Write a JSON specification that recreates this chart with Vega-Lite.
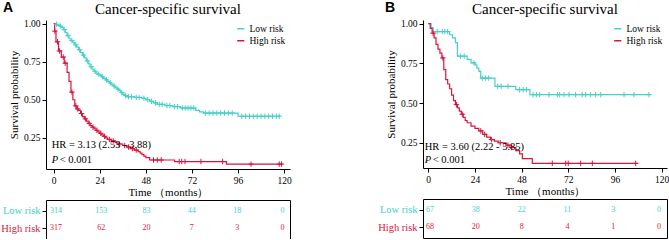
{
  "$schema": "https://vega.github.io/schema/vega-lite/v6.json",
  "background": "white",
  "padding": {"left": 0, "top": 0, "right": 0, "bottom": 0},
  "spacing": 85,
  "resolve": {"scale": {"color": "independent"}, "legend": {"color": "independent"}},
  "datasets": {
    "curveA": [
      {"group": "Low risk", "t": 0, "s": 1.0}, {"group": "Low risk", "t": 1, "s": 0.995}, {"group": "Low risk", "t": 2, "s": 0.99}, {"group": "Low risk", "t": 3, "s": 0.983}, {"group": "Low risk", "t": 4, "s": 0.975}, {"group": "Low risk", "t": 5, "s": 0.96}, {"group": "Low risk", "t": 6, "s": 0.94}, {"group": "Low risk", "t": 7, "s": 0.92}, {"group": "Low risk", "t": 8, "s": 0.9}, {"group": "Low risk", "t": 9, "s": 0.888}, {"group": "Low risk", "t": 10, "s": 0.875}, {"group": "Low risk", "t": 11, "s": 0.86}, {"group": "Low risk", "t": 12, "s": 0.845}, {"group": "Low risk", "t": 13, "s": 0.828}, {"group": "Low risk", "t": 14, "s": 0.81}, {"group": "Low risk", "t": 15, "s": 0.793}, {"group": "Low risk", "t": 16, "s": 0.775}, {"group": "Low risk", "t": 17, "s": 0.755}, {"group": "Low risk", "t": 18, "s": 0.735}, {"group": "Low risk", "t": 19, "s": 0.717}, {"group": "Low risk", "t": 20, "s": 0.7}, {"group": "Low risk", "t": 21, "s": 0.687}, {"group": "Low risk", "t": 22, "s": 0.675}, {"group": "Low risk", "t": 23, "s": 0.667}, {"group": "Low risk", "t": 24, "s": 0.66}, {"group": "Low risk", "t": 25, "s": 0.65}, {"group": "Low risk", "t": 26, "s": 0.64}, {"group": "Low risk", "t": 27, "s": 0.63}, {"group": "Low risk", "t": 28, "s": 0.62}, {"group": "Low risk", "t": 29, "s": 0.61}, {"group": "Low risk", "t": 30, "s": 0.6}, {"group": "Low risk", "t": 31, "s": 0.59}, {"group": "Low risk", "t": 32, "s": 0.58}, {"group": "Low risk", "t": 33, "s": 0.57}, {"group": "Low risk", "t": 34, "s": 0.56}, {"group": "Low risk", "t": 35, "s": 0.547}, {"group": "Low risk", "t": 36, "s": 0.535}, {"group": "Low risk", "t": 37, "s": 0.527}, {"group": "Low risk", "t": 38, "s": 0.52}, {"group": "Low risk", "t": 42, "s": 0.515}, {"group": "Low risk", "t": 46, "s": 0.51}, {"group": "Low risk", "t": 48, "s": 0.5}, {"group": "Low risk", "t": 50, "s": 0.49}, {"group": "Low risk", "t": 52, "s": 0.48}, {"group": "Low risk", "t": 54, "s": 0.47}, {"group": "Low risk", "t": 58, "s": 0.462}, {"group": "Low risk", "t": 62, "s": 0.455}, {"group": "Low risk", "t": 66, "s": 0.446}, {"group": "Low risk", "t": 74, "s": 0.43}, {"group": "Low risk", "t": 76, "s": 0.42}, {"group": "Low risk", "t": 78, "s": 0.413}, {"group": "Low risk", "t": 96, "s": 0.392}, {"group": "Low risk", "t": 118, "s": 0.392},
      {"group": "High risk", "t": 0, "s": 1.0}, {"group": "High risk", "t": 0.5, "s": 0.95}, {"group": "High risk", "t": 1.2, "s": 0.88}, {"group": "High risk", "t": 2.5, "s": 0.82}, {"group": "High risk", "t": 4, "s": 0.78}, {"group": "High risk", "t": 5.5, "s": 0.74}, {"group": "High risk", "t": 7, "s": 0.68}, {"group": "High risk", "t": 8, "s": 0.62}, {"group": "High risk", "t": 9, "s": 0.55}, {"group": "High risk", "t": 10, "s": 0.5}, {"group": "High risk", "t": 11, "s": 0.46}, {"group": "High risk", "t": 12, "s": 0.44}, {"group": "High risk", "t": 13, "s": 0.43}, {"group": "High risk", "t": 14, "s": 0.41}, {"group": "High risk", "t": 15, "s": 0.39}, {"group": "High risk", "t": 16, "s": 0.375}, {"group": "High risk", "t": 17, "s": 0.36}, {"group": "High risk", "t": 18, "s": 0.345}, {"group": "High risk", "t": 19, "s": 0.33}, {"group": "High risk", "t": 20, "s": 0.32}, {"group": "High risk", "t": 21, "s": 0.31}, {"group": "High risk", "t": 22, "s": 0.3}, {"group": "High risk", "t": 23, "s": 0.29}, {"group": "High risk", "t": 24, "s": 0.28}, {"group": "High risk", "t": 25, "s": 0.27}, {"group": "High risk", "t": 26, "s": 0.26}, {"group": "High risk", "t": 27, "s": 0.25}, {"group": "High risk", "t": 28, "s": 0.24}, {"group": "High risk", "t": 30, "s": 0.23}, {"group": "High risk", "t": 32, "s": 0.22}, {"group": "High risk", "t": 33, "s": 0.21}, {"group": "High risk", "t": 36, "s": 0.2}, {"group": "High risk", "t": 38, "s": 0.19}, {"group": "High risk", "t": 40, "s": 0.18}, {"group": "High risk", "t": 42, "s": 0.17}, {"group": "High risk", "t": 44, "s": 0.16}, {"group": "High risk", "t": 45, "s": 0.15}, {"group": "High risk", "t": 46, "s": 0.14}, {"group": "High risk", "t": 47, "s": 0.13}, {"group": "High risk", "t": 48, "s": 0.12}, {"group": "High risk", "t": 50, "s": 0.105}, {"group": "High risk", "t": 63, "s": 0.095}, {"group": "High risk", "t": 90, "s": 0.078}, {"group": "High risk", "t": 119.3, "s": 0.078}
    ],
    "censA": [
      {"group": "Low risk", "t": 1.5, "s": 0.995}, {"group": "Low risk", "t": 3.5, "s": 0.983}, {"group": "Low risk", "t": 5.5, "s": 0.96}, {"group": "Low risk", "t": 7.5, "s": 0.92}, {"group": "Low risk", "t": 9.5, "s": 0.888}, {"group": "Low risk", "t": 11.5, "s": 0.86}, {"group": "Low risk", "t": 13.5, "s": 0.828}, {"group": "Low risk", "t": 15.5, "s": 0.793}, {"group": "Low risk", "t": 17.5, "s": 0.755}, {"group": "Low risk", "t": 19.5, "s": 0.717}, {"group": "Low risk", "t": 21.5, "s": 0.687}, {"group": "Low risk", "t": 23.5, "s": 0.667}, {"group": "Low risk", "t": 25.5, "s": 0.65}, {"group": "Low risk", "t": 27.5, "s": 0.63}, {"group": "Low risk", "t": 29.5, "s": 0.61}, {"group": "Low risk", "t": 31.5, "s": 0.59}, {"group": "Low risk", "t": 33.5, "s": 0.57}, {"group": "Low risk", "t": 35.5, "s": 0.547}, {"group": "Low risk", "t": 37.5, "s": 0.527}, {"group": "Low risk", "t": 39, "s": 0.52}, {"group": "Low risk", "t": 40.5, "s": 0.52}, {"group": "Low risk", "t": 43, "s": 0.515}, {"group": "Low risk", "t": 44.5, "s": 0.515}, {"group": "Low risk", "t": 47, "s": 0.51}, {"group": "Low risk", "t": 49, "s": 0.5}, {"group": "Low risk", "t": 51, "s": 0.49}, {"group": "Low risk", "t": 53, "s": 0.48}, {"group": "Low risk", "t": 55, "s": 0.47}, {"group": "Low risk", "t": 56.5, "s": 0.47}, {"group": "Low risk", "t": 59, "s": 0.462}, {"group": "Low risk", "t": 60.5, "s": 0.462}, {"group": "Low risk", "t": 63, "s": 0.455}, {"group": "Low risk", "t": 64.5, "s": 0.455}, {"group": "Low risk", "t": 67, "s": 0.446}, {"group": "Low risk", "t": 68.5, "s": 0.446}, {"group": "Low risk", "t": 70, "s": 0.446}, {"group": "Low risk", "t": 71.5, "s": 0.446}, {"group": "Low risk", "t": 73, "s": 0.446}, {"group": "Low risk", "t": 79, "s": 0.413}, {"group": "Low risk", "t": 81, "s": 0.413}, {"group": "Low risk", "t": 83, "s": 0.413}, {"group": "Low risk", "t": 85, "s": 0.413}, {"group": "Low risk", "t": 87, "s": 0.413}, {"group": "Low risk", "t": 89, "s": 0.413}, {"group": "Low risk", "t": 91, "s": 0.413}, {"group": "Low risk", "t": 93, "s": 0.413}, {"group": "Low risk", "t": 98, "s": 0.392}, {"group": "Low risk", "t": 100, "s": 0.392}, {"group": "Low risk", "t": 102, "s": 0.392}, {"group": "Low risk", "t": 104, "s": 0.392}, {"group": "Low risk", "t": 106, "s": 0.392}, {"group": "Low risk", "t": 108, "s": 0.392}, {"group": "Low risk", "t": 110, "s": 0.392}, {"group": "Low risk", "t": 112, "s": 0.392}, {"group": "Low risk", "t": 114, "s": 0.392}, {"group": "Low risk", "t": 116, "s": 0.392}, {"group": "Low risk", "t": 117.5, "s": 0.392},
      {"group": "High risk", "t": 0.6, "s": 0.95}, {"group": "High risk", "t": 2, "s": 0.88}, {"group": "High risk", "t": 3, "s": 0.82}, {"group": "High risk", "t": 5, "s": 0.78}, {"group": "High risk", "t": 6, "s": 0.74}, {"group": "High risk", "t": 9.5, "s": 0.55}, {"group": "High risk", "t": 11.5, "s": 0.46}, {"group": "High risk", "t": 12.5, "s": 0.44}, {"group": "High risk", "t": 14.5, "s": 0.41}, {"group": "High risk", "t": 16.5, "s": 0.375}, {"group": "High risk", "t": 18.5, "s": 0.345}, {"group": "High risk", "t": 20.5, "s": 0.32}, {"group": "High risk", "t": 22.5, "s": 0.3}, {"group": "High risk", "t": 24.5, "s": 0.28}, {"group": "High risk", "t": 26.5, "s": 0.26}, {"group": "High risk", "t": 29, "s": 0.24}, {"group": "High risk", "t": 31, "s": 0.23}, {"group": "High risk", "t": 34, "s": 0.21}, {"group": "High risk", "t": 37, "s": 0.2}, {"group": "High risk", "t": 39, "s": 0.19}, {"group": "High risk", "t": 41, "s": 0.18}, {"group": "High risk", "t": 43, "s": 0.17}, {"group": "High risk", "t": 52, "s": 0.105}, {"group": "High risk", "t": 54, "s": 0.105}, {"group": "High risk", "t": 56, "s": 0.105}, {"group": "High risk", "t": 65.4, "s": 0.095}, {"group": "High risk", "t": 66.7, "s": 0.095}, {"group": "High risk", "t": 68.4, "s": 0.095}, {"group": "High risk", "t": 76.7, "s": 0.095}, {"group": "High risk", "t": 88, "s": 0.095}, {"group": "High risk", "t": 102.8, "s": 0.078}, {"group": "High risk", "t": 117.5, "s": 0.078}, {"group": "High risk", "t": 118.7, "s": 0.078}
    ],
    "curveB": [
      {"group": "Low risk", "t": 0, "s": 1.0}, {"group": "Low risk", "t": 1.5, "s": 0.975}, {"group": "Low risk", "t": 2.5, "s": 0.95}, {"group": "Low risk", "t": 11, "s": 0.93}, {"group": "Low risk", "t": 12.5, "s": 0.91}, {"group": "Low risk", "t": 14, "s": 0.88}, {"group": "Low risk", "t": 15, "s": 0.795}, {"group": "Low risk", "t": 20, "s": 0.775}, {"group": "Low risk", "t": 22, "s": 0.753}, {"group": "Low risk", "t": 24, "s": 0.74}, {"group": "Low risk", "t": 25, "s": 0.72}, {"group": "Low risk", "t": 26, "s": 0.7}, {"group": "Low risk", "t": 27, "s": 0.657}, {"group": "Low risk", "t": 34.3, "s": 0.605}, {"group": "Low risk", "t": 45, "s": 0.584}, {"group": "Low risk", "t": 52.3, "s": 0.553}, {"group": "Low risk", "t": 114.5, "s": 0.553},
      {"group": "High risk", "t": 0, "s": 1.0}, {"group": "High risk", "t": 1, "s": 0.97}, {"group": "High risk", "t": 2, "s": 0.94}, {"group": "High risk", "t": 3, "s": 0.91}, {"group": "High risk", "t": 4, "s": 0.87}, {"group": "High risk", "t": 5, "s": 0.84}, {"group": "High risk", "t": 6, "s": 0.815}, {"group": "High risk", "t": 7, "s": 0.784}, {"group": "High risk", "t": 8, "s": 0.711}, {"group": "High risk", "t": 9, "s": 0.648}, {"group": "High risk", "t": 10, "s": 0.62}, {"group": "High risk", "t": 11, "s": 0.59}, {"group": "High risk", "t": 12, "s": 0.55}, {"group": "High risk", "t": 13, "s": 0.515}, {"group": "High risk", "t": 14, "s": 0.49}, {"group": "High risk", "t": 15, "s": 0.47}, {"group": "High risk", "t": 16, "s": 0.449}, {"group": "High risk", "t": 17, "s": 0.43}, {"group": "High risk", "t": 18, "s": 0.41}, {"group": "High risk", "t": 19, "s": 0.39}, {"group": "High risk", "t": 20, "s": 0.376}, {"group": "High risk", "t": 22, "s": 0.355}, {"group": "High risk", "t": 24, "s": 0.34}, {"group": "High risk", "t": 26, "s": 0.325}, {"group": "High risk", "t": 28, "s": 0.303}, {"group": "High risk", "t": 30, "s": 0.285}, {"group": "High risk", "t": 32, "s": 0.27}, {"group": "High risk", "t": 34, "s": 0.26}, {"group": "High risk", "t": 36, "s": 0.25}, {"group": "High risk", "t": 40, "s": 0.235}, {"group": "High risk", "t": 42, "s": 0.22}, {"group": "High risk", "t": 45, "s": 0.2}, {"group": "High risk", "t": 47, "s": 0.18}, {"group": "High risk", "t": 48.4, "s": 0.15}, {"group": "High risk", "t": 53.5, "s": 0.12}, {"group": "High risk", "t": 107.5, "s": 0.12}
    ],
    "censB": [
      {"group": "Low risk", "t": 4.6, "s": 0.95}, {"group": "Low risk", "t": 7.2, "s": 0.95}, {"group": "Low risk", "t": 8.5, "s": 0.95}, {"group": "Low risk", "t": 10, "s": 0.95}, {"group": "Low risk", "t": 16.5, "s": 0.795}, {"group": "Low risk", "t": 18.5, "s": 0.795}, {"group": "Low risk", "t": 23.5, "s": 0.753}, {"group": "Low risk", "t": 27.8, "s": 0.657}, {"group": "Low risk", "t": 29.4, "s": 0.657}, {"group": "Low risk", "t": 31.1, "s": 0.657}, {"group": "Low risk", "t": 35.7, "s": 0.605}, {"group": "Low risk", "t": 37.5, "s": 0.605}, {"group": "Low risk", "t": 41, "s": 0.605}, {"group": "Low risk", "t": 47, "s": 0.584}, {"group": "Low risk", "t": 48.8, "s": 0.584}, {"group": "Low risk", "t": 50.5, "s": 0.584}, {"group": "Low risk", "t": 53.9, "s": 0.553}, {"group": "Low risk", "t": 55.6, "s": 0.553}, {"group": "Low risk", "t": 57.3, "s": 0.553}, {"group": "Low risk", "t": 62.1, "s": 0.553}, {"group": "Low risk", "t": 66.4, "s": 0.553}, {"group": "Low risk", "t": 67.6, "s": 0.553}, {"group": "Low risk", "t": 69.8, "s": 0.553}, {"group": "Low risk", "t": 72.4, "s": 0.553}, {"group": "Low risk", "t": 75.8, "s": 0.553}, {"group": "Low risk", "t": 79.2, "s": 0.553}, {"group": "Low risk", "t": 81, "s": 0.553}, {"group": "Low risk", "t": 83.5, "s": 0.553}, {"group": "Low risk", "t": 86.1, "s": 0.553}, {"group": "Low risk", "t": 88.7, "s": 0.553}, {"group": "Low risk", "t": 100.7, "s": 0.553}, {"group": "Low risk", "t": 105.8, "s": 0.553}, {"group": "Low risk", "t": 113.5, "s": 0.553},
      {"group": "High risk", "t": 2.5, "s": 0.94}, {"group": "High risk", "t": 7.5, "s": 0.784}, {"group": "High risk", "t": 14.5, "s": 0.49}, {"group": "High risk", "t": 17.5, "s": 0.43}, {"group": "High risk", "t": 27, "s": 0.325}, {"group": "High risk", "t": 29, "s": 0.303}, {"group": "High risk", "t": 32.5, "s": 0.27}, {"group": "High risk", "t": 37, "s": 0.25}, {"group": "High risk", "t": 41, "s": 0.235}, {"group": "High risk", "t": 43, "s": 0.22}, {"group": "High risk", "t": 63.8, "s": 0.12}, {"group": "High risk", "t": 70.7, "s": 0.12}, {"group": "High risk", "t": 72, "s": 0.12}, {"group": "High risk", "t": 78.4, "s": 0.12}, {"group": "High risk", "t": 84.4, "s": 0.12}, {"group": "High risk", "t": 106.7, "s": 0.12}
    ],
    "tableA": [
      {"group": "Low risk", "t": 0, "n": 314}, {"group": "Low risk", "t": 24, "n": 153}, {"group": "Low risk", "t": 48, "n": 83}, {"group": "Low risk", "t": 72, "n": 44}, {"group": "Low risk", "t": 96, "n": 18}, {"group": "Low risk", "t": 120, "n": 0},
      {"group": "High risk", "t": 0, "n": 317}, {"group": "High risk", "t": 24, "n": 62}, {"group": "High risk", "t": 48, "n": 20}, {"group": "High risk", "t": 72, "n": 7}, {"group": "High risk", "t": 96, "n": 3}, {"group": "High risk", "t": 120, "n": 0}
    ],
    "tableB": [
      {"group": "Low risk", "t": 0, "n": 67}, {"group": "Low risk", "t": 24, "n": 38}, {"group": "Low risk", "t": 48, "n": 22}, {"group": "Low risk", "t": 72, "n": 11}, {"group": "Low risk", "t": 96, "n": 3}, {"group": "Low risk", "t": 120, "n": 0},
      {"group": "High risk", "t": 0, "n": 68}, {"group": "High risk", "t": 24, "n": 20}, {"group": "High risk", "t": 48, "n": 8}, {"group": "High risk", "t": 72, "n": 4}, {"group": "High risk", "t": 96, "n": 1}, {"group": "High risk", "t": 120, "n": 0}
    ],
    "annotA": [{"hr": "HR = 3.13  (2.53 - 3.88)", "p": "P", "pv": "< 0.001"}],
    "annotB": [{"hr": "HR = 3.60  (2.22 - 5.85)", "p": "P", "pv": "< 0.001"}]
  },
  "hconcat": [
    {
      "title": {"text": "A", "anchor": "start", "frame": "group", "font": "Liberation Sans", "fontSize": 14, "fontWeight": "bold", "color": "black", "offset": 0, "dy": 13, "dx": -43},
      "spacing": 2,
      "resolve": {"scale": {"color": "independent"}, "legend": {"color": "independent"}},
      "vconcat": [
        {
          "width": 244, "height": 149,
          "title": {"text": "Cancer-specific survival", "font": "Liberation Serif", "fontSize": 15, "fontWeight": "normal", "color": "black", "offset": 2},
          "layer": [
            {
              "data": {"name": "curveA"},
              "mark": {"type": "line", "interpolate": "step-after", "strokeWidth": 1.2},
              "encoding": {
                "x": {"field": "t", "type": "quantitative", "scale": {"domain": [-4, 123.1], "nice": false, "zero": false}, "axis": {"values": [0, 24, 48, 72, 96, 120], "title": "Time （months）"}},
                "y": {"field": "s", "type": "quantitative", "scale": {"domain": [0.046, 1.023], "nice": false, "zero": false}, "axis": {"values": [0.25, 0.5, 0.75, 1.0], "format": ".2f", "title": "Survival probability"}},
                "color": {"field": "group", "type": "nominal", "scale": {"domain": ["Low risk", "High risk"], "range": ["#45D0C8", "#DC143C"]},
                  "legend": {"orient": "top-right", "offset": 4, "title": null, "symbolType": "stroke", "symbolSize": 50, "symbolStrokeWidth": 1.5, "labelFont": "Liberation Serif", "labelFontSize": 9.5, "labelColor": "black", "rowPadding": 1, "labelOffset": 4}}
              }
            },
            {
              "data": {"name": "censA"},
              "mark": {"type": "point", "shape": "M-1,0L1,0M0,-1L0,1", "filled": false, "size": 30, "strokeWidth": 1, "opacity": 1},
              "encoding": {
                "x": {"field": "t", "type": "quantitative"},
                "y": {"field": "s", "type": "quantitative"},
                "color": {"field": "group", "type": "nominal"}
              }
            },
            {
              "data": {"name": "annotA"},
              "mark": {"type": "text", "align": "left", "baseline": "middle", "font": "Liberation Serif", "fontSize": 10.5, "color": "black"},
              "encoding": {"x": {"datum": -1}, "y": {"datum": 0.203}, "text": {"field": "hr"}}
            },
            {
              "data": {"name": "annotA"},
              "mark": {"type": "text", "align": "left", "baseline": "middle", "font": "Liberation Serif", "fontSize": 10.5, "fontStyle": "italic", "color": "black"},
              "encoding": {"x": {"datum": -1}, "y": {"datum": 0.105}, "text": {"field": "p"}}
            },
            {
              "data": {"name": "annotA"},
              "mark": {"type": "text", "align": "left", "baseline": "middle", "font": "Liberation Serif", "fontSize": 10.5, "color": "black", "dx": 8},
              "encoding": {"x": {"datum": -1}, "y": {"datum": 0.105}, "text": {"field": "pv"}}
            }
          ]
        },
        {
          "width": 244, "height": 39,
          "data": {"name": "tableA"},
          "resolve": {"axis": {"x": "independent", "y": "independent"}},
          "layer": [
            {
              "mark": {"type": "text", "baseline": "middle", "font": "Liberation Serif", "fontSize": 8},
              "encoding": {
                "x": {"field": "t", "type": "quantitative", "scale": {"domain": [-5.3, 124], "nice": false, "zero": false}, "axis": {"orient": "bottom", "labels": false, "ticks": false, "title": null, "domain": true}},
                "y": {"field": "group", "type": "nominal", "scale": {"type": "point", "domain": ["Low risk", "High risk"], "padding": 0.6},
                  "axis": {"orient": "left", "title": null, "domain": true, "tickSize": 4, "labelPadding": 2, "labelFont": "Liberation Serif", "labelFontSize": 10.5,
                    "labelColor": {"condition": {"test": "datum.value === 'Low risk'", "value": "#45D0C8"}, "value": "#DC143C"}}},
                "text": {"field": "n", "type": "quantitative"},
                "color": {"field": "group", "type": "nominal", "scale": {"domain": ["Low risk", "High risk"], "range": ["#45D0C8", "#DC143C"]}, "legend": null}
              }
            },
            {
              "mark": {"type": "text", "baseline": "middle", "font": "Liberation Serif", "fontSize": 8, "opacity": 0},
              "encoding": {
                "x": {"field": "t", "type": "quantitative", "axis": {"orient": "top", "labels": false, "ticks": false, "title": null, "domain": true}},
                "y": {"field": "group", "type": "nominal", "axis": {"orient": "right", "labels": false, "ticks": false, "title": null, "domain": true}},
                "text": {"field": "n", "type": "quantitative"}
              }
            }
          ]
        }
      ]
    },
    {
      "title": {"text": "B", "anchor": "start", "frame": "group", "font": "Liberation Sans", "fontSize": 14, "fontWeight": "bold", "color": "black", "offset": 0, "dy": 13, "dx": -38},
      "spacing": 2,
      "resolve": {"scale": {"color": "independent"}, "legend": {"color": "independent"}},
      "vconcat": [
        {
          "width": 244, "height": 148,
          "title": {"text": "Cancer-specific survival", "font": "Liberation Serif", "fontSize": 15, "fontWeight": "normal", "color": "black", "offset": 2},
          "layer": [
            {
              "data": {"name": "curveB"},
              "mark": {"type": "line", "interpolate": "step-after", "strokeWidth": 1.2},
              "encoding": {
                "x": {"field": "t", "type": "quantitative", "scale": {"domain": [-2.7, 122.8], "nice": false, "zero": false}, "axis": {"values": [0, 24, 48, 72, 96, 120], "title": "Time （months）"}},
                "y": {"field": "s", "type": "quantitative", "scale": {"domain": [0.091, 1.023], "nice": false, "zero": false}, "axis": {"values": [0.25, 0.5, 0.75, 1.0], "format": ".2f", "title": "Survival probability"}},
                "color": {"field": "group", "type": "nominal", "scale": {"domain": ["Low risk", "High risk"], "range": ["#45D0C8", "#DC143C"]},
                  "legend": {"orient": "top-right", "offset": 4, "title": null, "symbolType": "stroke", "symbolSize": 50, "symbolStrokeWidth": 1.5, "labelFont": "Liberation Serif", "labelFontSize": 9.5, "labelColor": "black", "rowPadding": 1, "labelOffset": 4}}
              }
            },
            {
              "data": {"name": "censB"},
              "mark": {"type": "point", "shape": "M-1,0L1,0M0,-1L0,1", "filled": false, "size": 30, "strokeWidth": 1, "opacity": 1},
              "encoding": {
                "x": {"field": "t", "type": "quantitative"},
                "y": {"field": "s", "type": "quantitative"},
                "color": {"field": "group", "type": "nominal"}
              }
            },
            {
              "data": {"name": "annotB"},
              "mark": {"type": "text", "align": "left", "baseline": "middle", "font": "Liberation Serif", "fontSize": 10.5, "color": "black"},
              "encoding": {"x": {"datum": -1.8}, "y": {"datum": 0.221}, "text": {"field": "hr"}}
            },
            {
              "data": {"name": "annotB"},
              "mark": {"type": "text", "align": "left", "baseline": "middle", "font": "Liberation Serif", "fontSize": 10.5, "fontStyle": "italic", "color": "black"},
              "encoding": {"x": {"datum": -1.8}, "y": {"datum": 0.143}, "text": {"field": "p"}}
            },
            {
              "data": {"name": "annotB"},
              "mark": {"type": "text", "align": "left", "baseline": "middle", "font": "Liberation Serif", "fontSize": 10.5, "color": "black", "dx": 8},
              "encoding": {"x": {"datum": -1.8}, "y": {"datum": 0.143}, "text": {"field": "pv"}}
            }
          ]
        },
        {
          "width": 244, "height": 39,
          "data": {"name": "tableB"},
          "resolve": {"axis": {"x": "independent", "y": "independent"}},
          "layer": [
            {
              "mark": {"type": "text", "baseline": "middle", "font": "Liberation Serif", "fontSize": 8},
              "encoding": {
                "x": {"field": "t", "type": "quantitative", "scale": {"domain": [-3.7, 124.2], "nice": false, "zero": false}, "axis": {"orient": "bottom", "labels": false, "ticks": false, "title": null, "domain": true}},
                "y": {"field": "group", "type": "nominal", "scale": {"type": "point", "domain": ["Low risk", "High risk"], "padding": 0.6},
                  "axis": {"orient": "left", "title": null, "domain": true, "tickSize": 4, "labelPadding": 2, "labelFont": "Liberation Serif", "labelFontSize": 10.5,
                    "labelColor": {"condition": {"test": "datum.value === 'Low risk'", "value": "#45D0C8"}, "value": "#DC143C"}}},
                "text": {"field": "n", "type": "quantitative"},
                "color": {"field": "group", "type": "nominal", "scale": {"domain": ["Low risk", "High risk"], "range": ["#45D0C8", "#DC143C"]}, "legend": null}
              }
            },
            {
              "mark": {"type": "text", "baseline": "middle", "font": "Liberation Serif", "fontSize": 8, "opacity": 0},
              "encoding": {
                "x": {"field": "t", "type": "quantitative", "axis": {"orient": "top", "labels": false, "ticks": false, "title": null, "domain": true}},
                "y": {"field": "group", "type": "nominal", "axis": {"orient": "right", "labels": false, "ticks": false, "title": null, "domain": true}},
                "text": {"field": "n", "type": "quantitative"}
              }
            }
          ]
        }
      ]
    }
  ],
  "config": {
    "view": {"stroke": null},
    "font": "Liberation Serif",
    "axis": {"grid": false, "domainColor": "black", "tickColor": "black", "labelColor": "black", "titleColor": "black", "labelFont": "Liberation Serif", "titleFont": "Liberation Serif", "labelFontSize": 9.5, "titleFontSize": 11, "titleFontWeight": "normal", "tickSize": 4, "labelPadding": 2},
    "axisY": {"titlePadding": 4},
    "axisX": {"titlePadding": 2}
  }
}
